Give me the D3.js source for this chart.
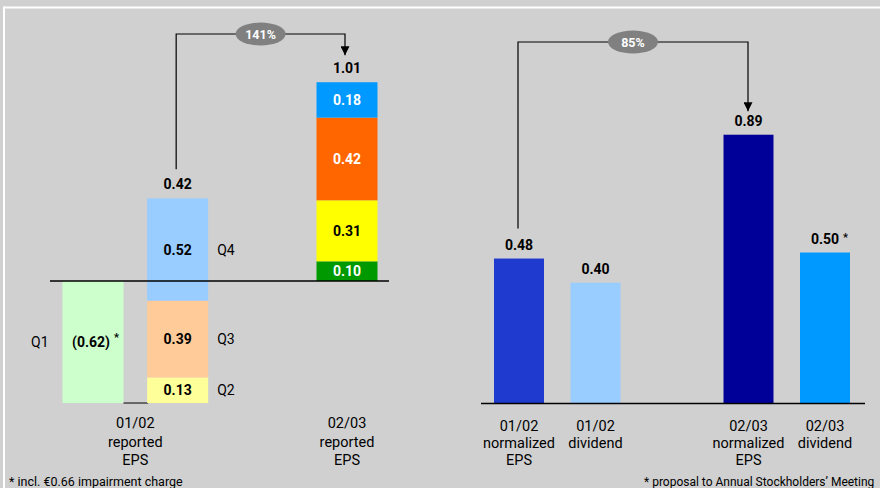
<!DOCTYPE html>
<html><head><meta charset="utf-8">
<script src="https://cdn.jsdelivr.net/npm/d3@7"></script>
<style>
html,body{margin:0;padding:0;background:#d0d0d0;}
svg{display:block;font-family:Roboto, "DejaVu Sans", sans-serif;}
</style></head><body>
<svg id="chart" width="880" height="488"></svg>
<script>
// Reported EPS by quarter (€ per share)
const quarters = ["Q1", "Q2", "Q3", "Q4"];
const eps0102 = [-0.62, 0.13, 0.39, 0.52];
const eps0203 = [0.10, 0.31, 0.42, 0.18];
const reportedYears = ["01/02", "02/03"];
const reportedLabel = ["reported", "EPS"];
const growthReported = "141%";
const footnoteLeft = "* incl. €0.66 impairment charge";

// Normalized EPS and dividend per share
const compareCategories = [
  ["01/02", "normalized", "EPS"],
  ["01/02", "dividend"],
  ["02/03", "normalized", "EPS"],
  ["02/03", "dividend"]
];
const compareValues = [0.48, 0.40, 0.89, 0.50];
const compareNotes = ["", "", "", "*"];
const growthNormalized = "85%";
const footnoteRight = "* proposal to Annual Stockholders\u2019 Meeting";

// palettes
const colors0102 = ["#ccffcc", "#ffff99", "#ffcc99", "#99ccff"];
const colors0203 = ["#009900", "#ffff00", "#ff6600", "#0099ff"];
const ink0203 = ["#ffffff", "#000000", "#ffffff", "#ffffff"];
const compareColors = ["#1f3acf", "#99ccff", "#000099", "#0099ff"];

const svg = d3.select("#chart");
const fmt = d3.format(".2f");
const fmtSigned = v => v < 0 ? "(" + fmt(-v) + ")" : fmt(v);

// frame
svg.append("rect").attr("width", 880).attr("height", 488).attr("fill", "#d0d0d0");
svg.append("rect").attr("x", 3).attr("y", 6.5).attr("width", 877).attr("height", 2).attr("fill", "#ffffff");
svg.append("rect").attr("x", 3).attr("y", 6.5).attr("width", 2).attr("height", 482).attr("fill", "#ffffff");

// arrowhead
svg.append("defs").append("marker")
  .attr("id", "arrow").attr("viewBox", "0 0 10 10")
  .attr("refX", 10).attr("refY", 5)
  .attr("markerWidth", 9).attr("markerHeight", 9)
  .attr("markerUnits", "userSpaceOnUse")
  .attr("orient", "auto")
  .append("path").attr("d", "M0,0L10,5L0,10Z").attr("fill", "#000");

function growthArrow(x0, yStart, x1, yTop, yEnd, label) {
  svg.append("path")
    .attr("d", `M${x0},${yStart}V${yTop}H${x1}V${yEnd}`)
    .attr("fill", "none").attr("stroke", "#000").attr("stroke-width", 1.2)
    .attr("marker-end", "url(#arrow)");
  const cx = (x0 + x1) / 2;
  svg.append("ellipse").attr("cx", cx).attr("cy", yTop).attr("rx", 25).attr("ry", 11.5).attr("fill", "#808080");
  svg.append("text").attr("x", cx).attr("y", yTop + 4.5).attr("text-anchor", "middle")
    .attr("fill", "#fff").attr("font-size", 12.5).attr("font-weight", 700).text(label);
}

// ---------- reported EPS (waterfall) ----------
const xL = d3.scaleLinear().domain([0, 3]).range([93, 347]);
const yL = d3.scaleLinear().domain([0, 1]).range([281, 84.2]);
const wL = 61;
const gL = svg.append("g");

// Q1 column (negative)
const q1 = eps0102[0];
gL.append("rect").attr("x", xL(0) - wL / 2).attr("y", yL(0)).attr("width", wL)
  .attr("height", yL(q1) - yL(0)).attr("fill", colors0102[0]);
gL.append("text").attr("x", xL(0) - 2).attr("y", (yL(0) + yL(q1)) / 2 + 5)
  .attr("text-anchor", "middle").attr("font-size", 14).attr("font-weight", 700).text(fmtSigned(q1));
gL.append("text").attr("x", xL(0) + 21).attr("y", (yL(0) + yL(q1)) / 2 - 1)
  .attr("font-size", 11).attr("font-weight", 700).text("*");
gL.append("text").attr("x", xL(0) - wL / 2 - 14).attr("y", (yL(0) + yL(q1)) / 2 + 5)
  .attr("text-anchor", "end").attr("font-size", 14).text(quarters[0]);

// connector from Q1 column to the 01/02 column
gL.append("line").attr("x1", xL(0) + wL / 2).attr("x2", xL(1) - wL / 2 + 1)
  .attr("y1", yL(q1)).attr("y2", yL(q1)).attr("stroke", "#000").attr("stroke-width", 1);

// 01/02 column: Q2..Q4 stacked from the Q1 level
let cum = q1;
for (let i = 1; i < quarters.length; i++) {
  const v = eps0102[i], y0 = cum, y1 = cum + v;
  gL.append("rect").attr("x", xL(1) - wL / 2).attr("y", yL(y1)).attr("width", wL)
    .attr("height", yL(y0) - yL(y1)).attr("fill", colors0102[i]);
  const cy = (yL(y0) + yL(y1)) / 2;
  gL.append("text").attr("x", xL(1)).attr("y", cy + 5).attr("text-anchor", "middle")
    .attr("font-size", 14).attr("font-weight", 700).text(fmtSigned(v));
  gL.append("text").attr("x", xL(1) + wL / 2 + 9).attr("y", cy + 5)
    .attr("font-size", 14).text(quarters[i]);
  cum = y1;
}
const total0102 = cum;

// 02/03 column stacked from zero
let cum2 = 0;
eps0203.forEach((v, i) => {
  const y0 = cum2, y1 = cum2 + v;
  gL.append("rect").attr("x", xL(3) - wL / 2).attr("y", yL(y1)).attr("width", wL)
    .attr("height", yL(y0) - yL(y1)).attr("fill", colors0203[i]);
  gL.append("text").attr("x", xL(3)).attr("y", (yL(y0) + yL(y1)) / 2 + 5).attr("text-anchor", "middle")
    .attr("fill", ink0203[i]).attr("font-size", 14).attr("font-weight", 700).text(fmt(v));
  cum2 = y1;
});
const total0203 = cum2;

// totals
[[1, total0102], [3, total0203]].forEach(([s, t]) => {
  gL.append("text").attr("x", xL(s)).attr("y", yL(t) - 9).attr("text-anchor", "middle")
    .attr("font-size", 14).attr("font-weight", 700).text(fmt(t));
});

// zero line
gL.append("line").attr("x1", 50).attr("x2", 389).attr("y1", yL(0)).attr("y2", yL(0))
  .attr("stroke", "#000").attr("stroke-width", 1.3);

// category labels
[(xL(0) + xL(1)) / 2, xL(3)].forEach((cx, i) => {
  const t = gL.append("text").attr("text-anchor", "middle").attr("font-size", 14.5);
  t.append("tspan").attr("x", cx).attr("y", 428).text(reportedYears[i]);
  t.append("tspan").attr("x", cx).attr("y", 447).text(reportedLabel[0]);
  t.append("tspan").attr("x", cx).attr("y", 464.5).text(reportedLabel[1]);
});

growthArrow(xL(1) - 1.5, yL(total0102) - 29, xL(3) - 2, 34, yL(total0203) - 27, growthReported);

// ---------- normalized EPS and dividend ----------
const slots = [0, 1, 3, 4];
const xR = d3.scaleLinear().domain([0, 4]).range([519, 825]);
const yR = d3.scaleLinear().domain([0, 1]).range([403.5, 101.5]);
const wR = 50;
const gR = svg.append("g");

compareValues.forEach((v, i) => {
  const cx = xR(slots[i]);
  gR.append("rect").attr("x", cx - wR / 2).attr("y", yR(v)).attr("width", wR)
    .attr("height", yR(0) - yR(v)).attr("fill", compareColors[i]);
  gR.append("text").attr("x", cx).attr("y", yR(v) - 9).attr("text-anchor", "middle")
    .attr("font-size", 14).attr("font-weight", 700).text(fmt(v));
  if (compareNotes[i]) {
    gR.append("text").attr("x", cx + 18).attr("y", yR(v) - 12)
      .attr("font-size", 11).attr("font-weight", 700).text(compareNotes[i]);
  }
  const t = gR.append("text").attr("text-anchor", "middle").attr("font-size", 14.5);
  compareCategories[i].forEach((line, k) => {
    t.append("tspan").attr("x", cx).attr("y", 431 + k * 17).text(line);
  });
});

gR.append("line").attr("x1", 481).attr("x2", 865).attr("y1", yR(0)).attr("y2", yR(0))
  .attr("stroke", "#000").attr("stroke-width", 1.3);

growthArrow(xR(slots[0]) - 1, yR(compareValues[0]) - 30, xR(slots[2]) - 0.5, 42, yR(compareValues[2]) - 23.5, growthNormalized);

// footnotes
svg.append("text").attr("x", 9).attr("y", 485.5).attr("font-size", 12.5).text(footnoteLeft);
svg.append("text").attr("x", 644).attr("y", 485.5).attr("font-size", 12).text(footnoteRight);
</script>
</body></html>
